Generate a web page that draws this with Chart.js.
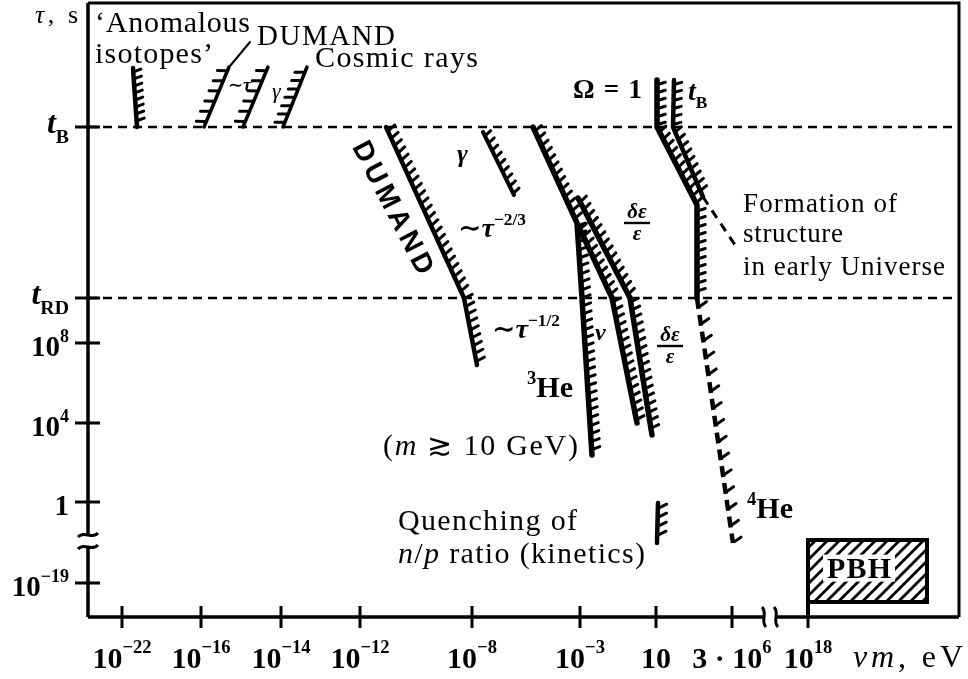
<!DOCTYPE html>
<html>
<head>
<meta charset="utf-8">
<title>Lifetime vs. energy constraints</title>
<script src="https://cdn.jsdelivr.net/npm/chart.js@4.4.1/dist/chart.umd.min.js"></script>
<style>
    html, body { margin: 0; padding: 0; background: #fff; }
    canvas { display: block; }
</style>
</head>
<body>
<canvas id="chart" width="968" height="679"></canvas>
<script>
// schematic axes: tick positions (axis units) and their labels
const xTickPos = [3.4, 11.3, 19.3, 27.2, 38.4, 49.2, 56.8, 64.4, 72.0];
const xTickLabels = ['10^{−22}', '10^{−16}', '10^{−14}', '10^{−12}', '10^{−8}', '10^{−3}', '10', '3 · 10^{6}', '10^{18}'];
const yTickPos = [49.0, 31.9, 27.4, 19.4, 11.5, 3.4];
const yTickLabels = ['*t*_{B}', '*t*_{RD}', '10^{8}', '10^{4}', '1', '10^{−19}'];
const xMax = 87.1, yMax = 61.4;
const xBreak = 68.2, yBreak = 7.6;

// constraint curves [x, y]
const anomalousIsotopes = [[4.5, 54.9], [4.9, 49.0]];
const dumandLow = [[11.6, 49.0], [14.1, 55.0]];
const cosmicTau = [[15.5, 49.0], [18.0, 55.0]];
const cosmicGamma = [[19.5, 49.0], [21.9, 55.0]];
const dumandHigh = [[29.8, 49.0], [37.6, 31.9], [38.9, 25.2]];
const gammaLine = [[39.5, 48.5], [42.6, 42.2]];
const nuLine = [[44.5, 49.0], [48.9, 39.4], [49.4, 31.9], [50.4, 16.2]];
const deltaA = [[49.0, 39.2], [52.4, 31.9], [54.9, 19.4]];
const deltaB = [[49.0, 41.9], [54.2, 31.9], [56.4, 18.2]];
const omegaLine = [[56.9, 53.7], [56.9, 49.0], [60.9, 41.2], [60.9, 31.9]];
const tBLine = [[58.6, 53.7], [58.5, 49.0], [61.5, 42.0]];
const he4Line = [[60.9, 31.9], [64.5, 7.4]];
const structureLine = [[61.5, 42.0], [64.7, 37.2]];
const quenching = [[57.0, 11.4], [56.9, 7.4]];
const pbhBox = [[72.0, 0], [72.0, 7.7], [83.9, 7.7], [83.9, 1.5], [72.0, 1.5]];
const dumandPointer = [[14.2, 55.1], [16.2, 57.5]];

const serif = '"Liberation Serif", "DejaVu Serif", serif';
const sans = '"Liberation Sans", "DejaVu Sans", sans-serif';

// text annotations (axis units)
const notes = [
    { text: '*τ*, s', x: -5.3, y: 59.4, size: 26, w: 43 },
    { text: '‘Anomalous', x: 0.7, y: 58.5, size: 30, w: 155 },
    { text: 'isotopes’', x: 0.7, y: 55.4, size: 30, w: 118 },
    { text: 'DUMAND', x: 16.9, y: 57.2, size: 29, w: 138 },
    { text: 'Cosmic rays', x: 22.7, y: 55.0, size: 30, w: 163 },
    { text: '*γ*', x: 18.4, y: 51.9, size: 22 },
    { text: '∼*τ*', x: 14.0, y: 52.6, size: 18, bold: true },
    { text: 'Ω = 1', x: 48.5, y: 51.9, size: 27, bold: true, w: 69 },
    { text: '*t*_{B}', x: 60.0, y: 51.7, size: 28, bold: true },
    { text: '*γ*', x: 36.9, y: 45.5, size: 26, bold: true },
    { text: '∼*τ*^{−2/3}', x: 37.0, y: 38.0, size: 28, bold: true },
    { text: '∼*τ*^{−1/2}', x: 40.4, y: 27.9, size: 28, bold: true },
    { text: '*ν*', x: 50.7, y: 27.7, size: 24, bold: true },
    { text: '^{3}He', x: 43.9, y: 22.0, size: 30, bold: true },
    { text: '^{4}He', x: 65.9, y: 9.9, size: 30, bold: true },
    { text: 'Formation of', x: 65.5, y: 40.5, size: 27, w: 154 },
    { text: 'structure', x: 65.5, y: 37.5, size: 27, w: 100 },
    { text: 'in early Universe', x: 65.5, y: 34.2, size: 27, w: 202 },
    { text: '(*m* ≳ 10 GeV)', x: 29.5, y: 16.2, size: 30, w: 195 },
    { text: 'Quenching of', x: 31.0, y: 8.7, size: 30, w: 179 },
    { text: '*n*/*p* ratio (kinetics)', x: 31.0, y: 5.4, size: 30, w: 247 },
    { text: 'PBH', x: 77.1, y: 3.9, size: 30, bold: true, align: 'center', bg: true, w: 64 },
    { text: '*νm*, eV', x: 76.5, y: -5.0, size: 32, w: 110 },
    { text: 'DUMAND', x: 30.6, y: 41.0, size: 28, bold: true, family: sans, align: 'center', rotate: 62.7, w: 146 },
    { frac: ['δε', 'ε'], x: 54.9, y: 39.4, size: 21 },
    { frac: ['δε', 'ε'], x: 58.2, y: 27.1, size: 21 }
];

// simple rich text: *italic*, ^{sup}, _{sub}
function parseRich(s) {
    const segs = [];
    let buf = '', it = false, i = 0;
    const push = (t, mode) => { if (t) segs.push({ t, mode, it }); };
    while (i < s.length) {
        const c = s[i];
        if ((c === '^' || c === '_') && s[i + 1] === '{') {
            push(buf, 0); buf = '';
            const j = s.indexOf('}', i);
            push(s.slice(i + 2, j), c === '^' ? 1 : -1);
            i = j + 1;
            continue;
        }
        if (c === '*') { push(buf, 0); buf = ''; it = !it; i++; continue; }
        buf += c; i++;
    }
    push(buf, 0);
    return segs;
}

function drawRich(ctx, s, x, y, o) {
    const segs = parseRich(s);
    const fontOf = seg => {
        const sz = seg.mode ? o.size * 0.62 : o.size;
        return (seg.it ? 'italic ' : '') + (o.bold ? 'bold ' : '') + sz + 'px ' + (o.family || serif);
    };
    ctx.save();
    let w = 0, n = 0;
    segs.forEach(seg => { ctx.font = fontOf(seg); seg.w = ctx.measureText(seg.t).width; w += seg.w; n += seg.t.length; });
    let sp = 0;
    if (o.w) { sp = (o.w - w) / Math.max(1, n - 1); w = o.w; }
    if (o.rotate) {
        ctx.translate(x, y);
        ctx.rotate(o.rotate * Math.PI / 180);
        x = 0; y = o.size * 0.35;
    }
    let cx = o.align === 'center' ? x - w / 2 : o.align === 'right' ? x - w : x;
    if (o.bg) {
        ctx.fillStyle = '#fff';
        ctx.fillRect(cx - 4, y - o.size * 0.78, w + 8, o.size * 0.9);
    }
    ctx.fillStyle = '#000';
    ctx.textAlign = 'left';
    ctx.textBaseline = 'alphabetic';
    const raise = o.raise || 0.42;
    segs.forEach(seg => {
        ctx.font = fontOf(seg);
        const dy = seg.mode === 1 ? -o.size * raise : seg.mode === -1 ? o.size * 0.3 : 0;
        for (const ch of seg.t) {
            ctx.fillText(ch, cx, y + dy);
            cx += ctx.measureText(ch).width + sp;
        }
    });
    ctx.restore();
}

function hatchPattern() {
    const c = document.createElement('canvas');
    c.width = c.height = 12;
    const g = c.getContext('2d');
    g.strokeStyle = '#000';
    g.lineWidth = 2.8;
    g.beginPath();
    g.moveTo(-3, 15); g.lineTo(15, -3);
    g.moveTo(-3, 3); g.lineTo(3, -3);
    g.moveTo(9, 15); g.lineTo(15, 9);
    g.stroke();
    return g.createPattern(c, 'repeat');
}

function lineSet(pts, style) {
    return Object.assign({
        data: pts.map(([x, y]) => ({ x, y })),
        showLine: true,
        borderColor: '#000',
        borderWidth: 4,
        pointRadius: 0,
        tension: 0,
        fill: false,
        borderCapStyle: 'round',
        borderJoinStyle: 'round'
    }, style);
}

const hatch = (gap, len, side = 1, tilt = 0.3, w = 3) => ({ gap, len, side, tilt, w });

const datasets = [
    lineSet([[0, yTickPos[0]], [xMax, yTickPos[0]]], { borderWidth: 2.5, borderDash: [9, 6], borderCapStyle: 'butt' }),
    lineSet([[0, yTickPos[1]], [xMax, yTickPos[1]]], { borderWidth: 2.5, borderDash: [9, 6], borderCapStyle: 'butt' }),
    lineSet(anomalousIsotopes, { borderWidth: 4.5, hatch: hatch(7, 6) }),
    lineSet(dumandLow, { borderWidth: 3.5, hatch: hatch(11, 8, 1, 0.4) }),
    lineSet(cosmicTau, { borderWidth: 3.5, hatch: hatch(11, 8, 1, 0.4) }),
    lineSet(cosmicGamma, { borderWidth: 3.5, hatch: hatch(9, 8, 1, 0.4) }),
    lineSet(dumandPointer, { borderWidth: 2 }),
    lineSet(dumandHigh, { borderWidth: 4.5, hatch: hatch(8, 7) }),
    lineSet(gammaLine, { borderWidth: 4, hatch: hatch(8, 6) }),
    lineSet(nuLine, { borderWidth: 5.5, hatch: hatch(8, 6) }),
    lineSet(deltaA, { borderWidth: 5.5, hatch: hatch(8, 6) }),
    lineSet(deltaB, { borderWidth: 5.5, hatch: hatch(8, 6) }),
    lineSet(omegaLine, { borderWidth: 5.5, hatch: hatch(8, 6) }),
    lineSet(tBLine, { borderWidth: 4.5, hatch: hatch(8, 6) }),
    lineSet(he4Line, { borderWidth: 4.5, borderDash: [11, 6], borderCapStyle: 'butt', hatch: hatch(17, 7, 1, 0.5) }),
    lineSet(structureLine, { borderWidth: 3, borderDash: [9, 7], borderCapStyle: 'butt' }),
    lineSet(quenching, { borderWidth: 4.5, hatch: hatch(9, 7, 1, 0.5) }),
    lineSet(pbhBox, { borderWidth: 4, borderJoinStyle: 'miter', borderCapStyle: 'butt', fill: 'shape', backgroundColor: hatchPattern() })
];

// hatch marks along a dataset's path
const hatchPlugin = {
    id: 'hatchMarks',
    afterDatasetsDraw(chart) {
        const ctx = chart.ctx;
        chart.data.datasets.forEach((ds, i) => {
            const h = ds.hatch;
            if (!h) return;
            const pts = chart.getDatasetMeta(i).data;
            ctx.save();
            ctx.strokeStyle = '#000';
            ctx.lineWidth = h.w;
            ctx.lineCap = 'round';
            let s = h.gap / 2;
            for (let k = 0; k + 1 < pts.length; k++) {
                const p = pts[k], q = pts[k + 1];
                const L = Math.hypot(q.x - p.x, q.y - p.y);
                const dx = (q.x - p.x) / L, dy = (q.y - p.y) / L;
                const nx = dy * h.side, ny = -dx * h.side;
                const off = ds.borderWidth / 2 - 0.5;
                while (s < L) {
                    const bx = p.x + dx * s + nx * off, by = p.y + dy * s + ny * off;
                    ctx.beginPath();
                    ctx.moveTo(bx, by);
                    ctx.lineTo(bx + nx * h.len - dx * h.len * h.tilt, by + ny * h.len - dy * h.len * h.tilt);
                    ctx.stroke();
                    s += h.gap;
                }
                s -= L;
            }
            ctx.restore();
        });
    }
};

// frame, axes with breaks, ticks, labels and notes
const decorPlugin = {
    id: 'decor',
    afterDraw(chart) {
        const { ctx, chartArea: a } = chart;
        const X = v => chart.scales.x.getPixelForValue(v);
        const Y = v => chart.scales.y.getPixelForValue(v);
        ctx.save();
        ctx.strokeStyle = '#000';
        ctx.lineCap = 'butt';

        // thin frame top / right
        ctx.lineWidth = 3;
        ctx.beginPath();
        ctx.moveTo(a.left, a.top); ctx.lineTo(a.right, a.top); ctx.lineTo(a.right, a.bottom);
        ctx.stroke();

        // axes with gaps at the breaks
        const yb = Y(yBreak), xb = X(xBreak);
        ctx.lineWidth = 3.5;
        ctx.beginPath();
        ctx.moveTo(a.left, a.top); ctx.lineTo(a.left, yb - 6);
        ctx.moveTo(a.left, yb + 6); ctx.lineTo(a.left, a.bottom);
        ctx.moveTo(a.left, a.bottom); ctx.lineTo(xb - 5, a.bottom);
        ctx.moveTo(xb + 5, a.bottom); ctx.lineTo(a.right, a.bottom);
        ctx.stroke();

        // break marks
        ctx.lineWidth = 3;
        [-6, 6].forEach(d => {
            ctx.beginPath();
            ctx.moveTo(a.left - 10, yb + d + 2);
            ctx.bezierCurveTo(a.left - 4, yb + d - 5, a.left + 4, yb + d + 5, a.left + 10, yb + d - 2);
            ctx.stroke();
            ctx.beginPath();
            ctx.moveTo(xb + d - 2, a.bottom - 10);
            ctx.bezierCurveTo(xb + d + 4, a.bottom - 4, xb + d - 4, a.bottom + 4, xb + d + 2, a.bottom + 10);
            ctx.stroke();
        });

        // ticks crossing the axes
        ctx.lineWidth = 3;
        ctx.beginPath();
        xTickPos.forEach(v => { ctx.moveTo(X(v), a.bottom - 11); ctx.lineTo(X(v), a.bottom + 11); });
        yTickPos.forEach(v => { ctx.moveTo(a.left - 13, Y(v)); ctx.lineTo(a.left + 12, Y(v)); });
        ctx.stroke();
        ctx.restore();

        // tick labels
        xTickPos.forEach((v, i) => drawRich(ctx, xTickLabels[i], X(v), a.bottom + 51, { size: 30, bold: true, align: 'center', raise: 0.5 }));
        yTickPos.forEach((v, i) => {
            const isT = yTickLabels[i].startsWith('*t*');
            drawRich(ctx, yTickLabels[i], a.left - 19, Y(v) + (isT ? 6 : 13), { size: isT ? 32 : 29, bold: true, align: 'right', raise: 0.5 });
        });

        // annotations
        notes.forEach(n => {
            const px = X(n.x), py = Y(n.y);
            if (n.frac) {
                ctx.save();
                ctx.fillStyle = '#000';
                ctx.font = 'italic bold ' + n.size + 'px ' + serif;
                ctx.textAlign = 'center';
                ctx.fillText(n.frac[0], px, py - 5);
                ctx.fillText(n.frac[1], px, py + 17);
                ctx.fillRect(px - 13, py - 1.2, 26, 2.4);
                ctx.restore();
                return;
            }
            drawRich(ctx, n.text, px, py, n);
        });
    }
};

new Chart(document.getElementById('chart'), {
    type: 'scatter',
    data: { datasets },
    options: {
        responsive: false,
        animation: false,
        events: [],
        layout: { padding: { top: 3, right: 9, left: 0, bottom: 0 } },
        plugins: { legend: { display: false }, tooltip: { enabled: false } },
        scales: {
            x: {
                type: 'linear', min: 0, max: xMax,
                ticks: { display: false }, grid: { display: false }, border: { display: false },
                afterFit: s => { s.height = 62; }
            },
            y: {
                type: 'linear', min: 0, max: yMax,
                ticks: { display: false }, grid: { display: false }, border: { display: false },
                afterFit: s => { s.width = 88; }
            }
        }
    },
    plugins: [hatchPlugin, decorPlugin]
});
</script>
</body>
</html>
